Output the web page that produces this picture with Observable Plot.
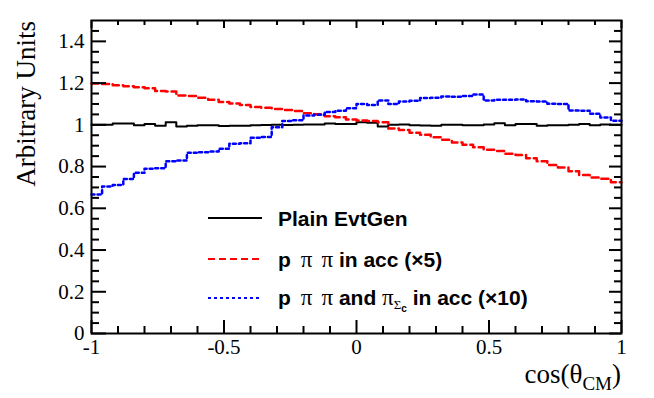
<!DOCTYPE html>
<html>
<head>
<meta charset="utf-8">
<script src="https://cdn.jsdelivr.net/npm/d3@7"></script>
<script src="https://cdn.jsdelivr.net/npm/@observablehq/plot@0.6"></script>
<style>
  html, body { margin: 0; padding: 0; background: #fff; }
  #chart { width: 654px; height: 398px; }
</style>
</head>
<body>
<div id="chart"></div>
<script>
// Bin edges of the cos(theta_CM) histogram (50 bins)
const binEdges = [-1,-0.96,-0.92,-0.88,-0.84,-0.8,-0.76,-0.72,-0.68,-0.64,-0.6,-0.56,-0.52,-0.48,-0.44,-0.4,-0.36,-0.32,-0.28,-0.24,-0.2,-0.16,-0.12,-0.08,-0.04,0,0.04,0.08,0.12,0.16,0.2,0.24,0.28,0.32,0.36,0.4,0.44,0.48,0.52,0.56,0.6,0.64,0.68,0.72,0.76,0.8,0.84,0.88,0.92,0.96,1];

// Series values (one per bin)
const plainEvtGen = [1.000,1.000,1.006,1.006,0.998,1.004,0.996,1.012,0.992,0.996,
  0.998,0.998,0.994,0.996,0.996,0.998,0.999,1.000,0.999,1.001,
  1.002,1.002,1.006,1.004,1.004,1.012,1.010,0.992,1.000,1.002,
  0.998,0.997,0.996,1.000,1.000,0.998,0.998,1.002,1.008,0.998,
  1.004,1.004,0.996,0.998,0.998,1.000,1.004,0.998,1.002,1.000];

const pPiPiAcc = [1.198,1.196,1.190,1.185,1.180,1.175,1.162,1.160,1.140,1.138,
  1.130,1.120,1.110,1.102,1.095,1.086,1.082,1.076,1.071,1.066,
  1.056,1.051,1.041,1.036,1.026,1.021,1.018,1.012,0.982,0.975,
  0.962,0.952,0.940,0.928,0.915,0.905,0.892,0.880,0.875,0.862,
  0.855,0.840,0.825,0.808,0.795,0.778,0.760,0.748,0.742,0.725];

const pPiPiSigAcc = [0.666,0.705,0.712,0.741,0.770,0.790,0.792,0.825,0.829,0.866,
  0.869,0.872,0.885,0.909,0.912,0.938,0.942,0.989,1.018,1.022,
  1.045,1.048,1.062,1.067,1.080,1.100,1.095,1.117,1.100,1.112,
  1.115,1.128,1.130,1.136,1.134,1.138,1.145,1.117,1.120,1.120,
  1.122,1.113,1.112,1.101,1.100,1.069,1.068,1.053,1.035,1.020];

// Axis ticks
const xMajor = [-1, -0.5, 0, 0.5, 1];
const xMinor = [-0.9,-0.8,-0.7,-0.6,-0.4,-0.3,-0.2,-0.1,0.1,0.2,0.3,0.4,0.6,0.7,0.8,0.9];
const yMajor = [0, 0.2, 0.4, 0.6, 0.8, 1, 1.2, 1.4];
const yMinor = [0.05,0.1,0.15,0.25,0.3,0.35,0.45,0.5,0.55,0.65,0.7,0.75,0.85,0.9,0.95,1.05,1.1,1.15,1.25,1.3,1.35,1.45];

// Legend entries
const legendLabels = ["Plain EvtGen", "p π π in acc (×5)", "p π π and π_Σc in acc (×10)"];

const W = 654, H = 398;
const mL = 91, mR = 33, mT = 20, mB = 65;
const plotW = W - mL - mR, plotH = H - mT - mB;

function steps(vals) {
  const pts = vals.map((v, i) => ({x: binEdges[i], y: v}));
  pts.push({x: binEdges[vals.length], y: vals[vals.length - 1]});
  return pts;
}

const styles = [
  {stroke: "#000000", strokeWidth: 2, dash: null},
  {stroke: "#ff0000", strokeWidth: 2.5, dash: "7,4"},
  {stroke: "#0000ff", strokeWidth: 2.5, dash: "3,3"}
];
const series = [plainEvtGen, pPiPiAcc, pPiPiSigAcc];

const tickStyle = {stroke: "black", strokeWidth: 2};

const chart = Plot.plot({
  width: W, height: H,
  marginLeft: mL, marginRight: mR, marginTop: mT, marginBottom: mB,
  x: {domain: [-1, 1]},
  y: {domain: [0, 1.5]},
  style: {fontFamily: "'Liberation Serif', 'Times New Roman', serif", fontSize: "21px", color: "black", background: "white"},
  marks: [
    ...series.map((vals, k) => Plot.line(steps(vals), {
      x: "x", y: "y", curve: "step-after",
      stroke: styles[k].stroke, strokeWidth: styles[k].strokeWidth,
      strokeDasharray: styles[k].dash
    })),
    // bottom ticks (inward)
    Plot.tickX(xMinor, {x: d => d, insetTop: plotH - 7, ...tickStyle}),
    Plot.tickX(xMajor, {x: d => d, insetTop: plotH - 13, ...tickStyle}),
    // top ticks
    Plot.tickX(xMinor, {x: d => d, insetBottom: plotH - 5, ...tickStyle}),
    Plot.tickX(xMajor, {x: d => d, insetBottom: plotH - 8, ...tickStyle}),
    // left ticks
    Plot.tickY(yMinor, {y: d => d, insetRight: plotW - 8, ...tickStyle}),
    Plot.tickY(yMajor, {y: d => d, insetRight: plotW - 15, ...tickStyle}),
    // right ticks
    Plot.tickY(yMinor, {y: d => d, insetLeft: plotW - 7, ...tickStyle}),
    Plot.tickY(yMajor, {y: d => d, insetLeft: plotW - 12, ...tickStyle}),
    Plot.frame({stroke: "black", strokeWidth: 2}),
    Plot.axisX(xMajor, {tickSize: 0, tickPadding: 6, tickFormat: d => String(d), label: null, fontSize: 21}),
    Plot.axisY(yMajor, {tickSize: 0, tickPadding: 7, tickFormat: d => String(d), label: null, fontSize: 21})
  ]
});

document.getElementById("chart").appendChild(chart);

const svg = d3.select(chart);
const serif = "'Liberation Serif', 'Times New Roman', serif";
const sans = "'Liberation Sans', Arial, Helvetica, sans-serif";

// Y axis title
svg.append("text")
  .attr("transform", "translate(35,21) rotate(-90)")
  .attr("text-anchor", "end")
  .attr("font-family", serif)
  .attr("font-size", 27)
  .attr("fill", "black")
  .text("Arbitrary Units");

// X axis title: cos(θ_CM)
const xt = svg.append("text")
  .attr("x", 621).attr("y", 383)
  .attr("text-anchor", "end")
  .attr("font-family", serif)
  .attr("font-size", 27)
  .attr("fill", "black");
xt.append("tspan").text("cos(θ");
xt.append("tspan").attr("font-size", 19).attr("dy", 7).text("CM");
xt.append("tspan").attr("dy", -7).text(")");

// Legend
const legY = [218, 259, 298];
const baseY = [226, 267, 305];
const lg = svg.append("g").attr("text-anchor", "start");
legendLabels.forEach((lab, k) => {
  lg.append("line")
    .attr("x1", 208).attr("x2", 262)
    .attr("y1", legY[k]).attr("y2", legY[k])
    .attr("stroke", styles[k].stroke)
    .attr("stroke-width", 2)
    .attr("stroke-dasharray", styles[k].dash);
  const t = lg.append("text")
    .attr("x", 278).attr("y", baseY[k])
    .attr("text-anchor", "start")
    .attr("font-family", sans)
    .attr("font-weight", "bold")
    .attr("font-size", 21)
    .attr("fill", "black")
    .attr("xml:space", "preserve");
  if (k === 0) {
    t.text(lab);
  } else {
    const piSpan = (txt, dx) => t.append("tspan").attr("dx", dx).attr("font-family", serif).attr("font-weight", "normal").attr("font-size", 23).text(txt);
    t.append("tspan").text("p");
    piSpan("π", 10);
    piSpan("π", 9);
    if (k === 1) {
      t.append("tspan").text(" in acc (×5)");
    } else {
      t.append("tspan").text(" and ");
      piSpan("π", 0);
      t.append("tspan").attr("font-family", serif).attr("font-weight", "normal").attr("font-size", 13).attr("dy", 4).text("Σ");
      t.append("tspan").attr("font-size", 10).attr("dy", 3).text("c");
      t.append("tspan").attr("dy", -7).text(" in acc (×10)");
    }
  }
});
</script>
</body>
</html>
